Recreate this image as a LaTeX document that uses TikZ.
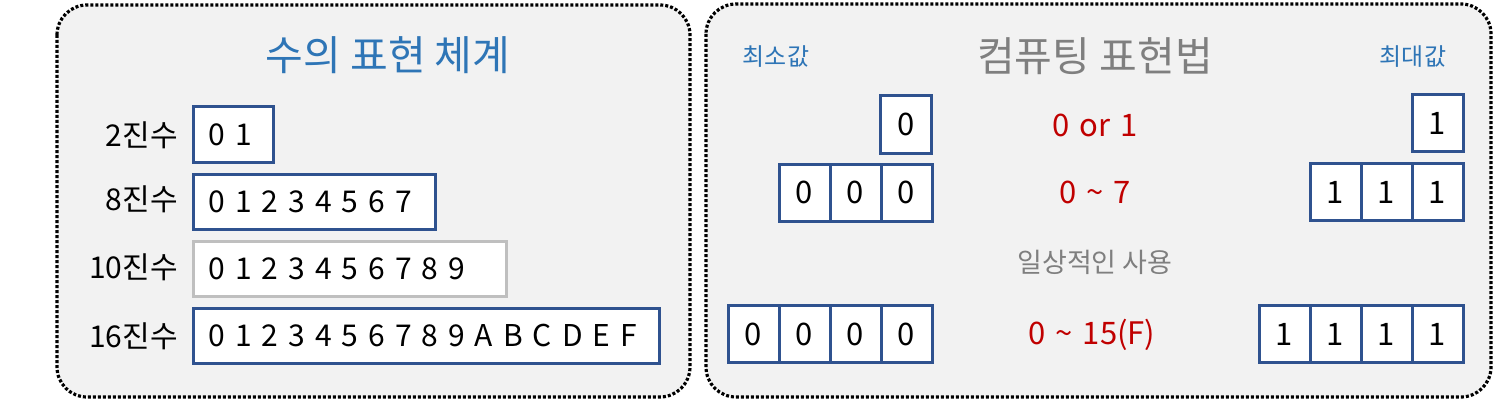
\documentclass[tikz,border=0pt]{standalone}
\usepackage{fontspec}
\setmainfont{Noto Sans CJK KR}
\newfontfamily\digitfont[WordSpace=0.95]{Noto Sans CJK KR}
\usepackage{tikz}
\usetikzlibrary{positioning}
\definecolor{boxblue}{HTML}{2F528F}
\definecolor{titleblue}{HTML}{2E75B6}
\definecolor{titlegray}{HTML}{7F7F7F}
\definecolor{rangered}{HTML}{C00000}
\definecolor{panelgray}{HTML}{F2F2F2}
\definecolor{lightborder}{HTML}{BFBFBF}
\newcommand{\redgap}{\spaceskip=10pt\relax}
\tikzstyle{panel} = [draw=black, line width=3.2pt, dash pattern=on 3pt off 2pt, rounded corners=30pt, fill=panelgray]
\tikzstyle{title} = [font=\fontsize{41}{46}\selectfont, inner sep=0pt]
\tikzstyle{minmax} = [font=\fontsize{24}{28}\selectfont, text=titleblue, inner sep=0pt]
\tikzstyle{radix} = [font=\fontsize{30}{34}\selectfont, anchor=east, inner sep=0pt]
\tikzstyle{digits} = [font=\digitfont\fontsize{30}{34}\selectfont, rectangle, minimum height=55pt, inner xsep=15pt, inner ysep=0pt, align=left, anchor=west, draw=boxblue, line width=3pt, fill=white]
\tikzstyle{cell} = [font=\fontsize{31}{35}\selectfont, rectangle, minimum width=51pt, minimum height=57pt, inner sep=0pt, draw=boxblue, line width=3pt, fill=white]
\tikzstyle{rangetext} = [font={\fontsize{31}{35}\selectfont\redgap}, text=rangered, inner sep=0pt]

\begin{document}
\begin{tikzpicture}[x=1pt, y=-1pt, node distance=51pt]
  \useasboundingbox (0,0) rectangle (1495,401);
  \draw[panel] (57,5) rectangle (690,397);
  \draw[panel] (706,4) rectangle (1491,397);
  % left panel
  \node (num_title) [title, text=titleblue] at (388,55) {수의 표현 체계};
  \node (bin_label) [radix] at (178,135) {2진수};
  \node (oct_label) [radix] at (178,199) {8진수};
  \node (dec_label) [radix] at (178,267) {10진수};
  \node (hex_label) [radix] at (178,336) {16진수};
  \node (bin_box) [digits, text width=50pt] at (192,134.5) {0 1};
  \node (oct_box) [digits, text width=212pt] at (192,202) {0 1 2 3 4 5 6 7};
  \node (dec_box) [digits, text width=283pt, draw=lightborder] at (192,269) {0 1 2 3 4 5 6 7 8 9};
  \node (hex_box) [digits, text width=436pt] at (192,336) {0 1 2 3 4 5 6 7 8 9 A B C D E F};
  % right panel
  \node (comp_title) [title, text=titlegray] at (1095,56) {컴퓨팅 표현법};
  \node (min_label) [minmax] at (776,57) {최소값};
  \node (max_label) [minmax] at (1413,57) {최대값};
  \node (min1) [cell] at (906,124.5) {0};
  \node (range1) [rangetext] at (1095,125) {0 or 1};
  \node (max1) [cell] at (1437.5,123) {1};
  \node (min3a) [cell] at (804.5,192.5) {0};
  \node (min3b) [cell, right of=min3a] {0};
  \node (min3c) [cell, right of=min3b] {0};
  \node (range3) [rangetext] at (1095,192) {0 \char`\~{} 7};
  \node (max3a) [cell] at (1335.5,192) {1};
  \node (max3b) [cell, right of=max3a] {1};
  \node (max3c) [cell, right of=max3b] {1};
  \node (daily) [font=\fontsize{27}{32}\selectfont, text=titlegray, inner sep=0pt] at (1095,262) {일상적인 사용};
  \node (min4a) [cell] at (753.5,334) {0};
  \node (min4b) [cell, right of=min4a] {0};
  \node (min4c) [cell, right of=min4b] {0};
  \node (min4d) [cell, right of=min4c] {0};
  \node (range4) [rangetext] at (1092,335) {0 \char`\~{} 15(F)};
  \node (max4a) [cell] at (1284.5,334) {1};
  \node (max4b) [cell, right of=max4a] {1};
  \node (max4c) [cell, right of=max4b] {1};
  \node (max4d) [cell, right of=max4c] {1};
\end{tikzpicture}
\end{document}
